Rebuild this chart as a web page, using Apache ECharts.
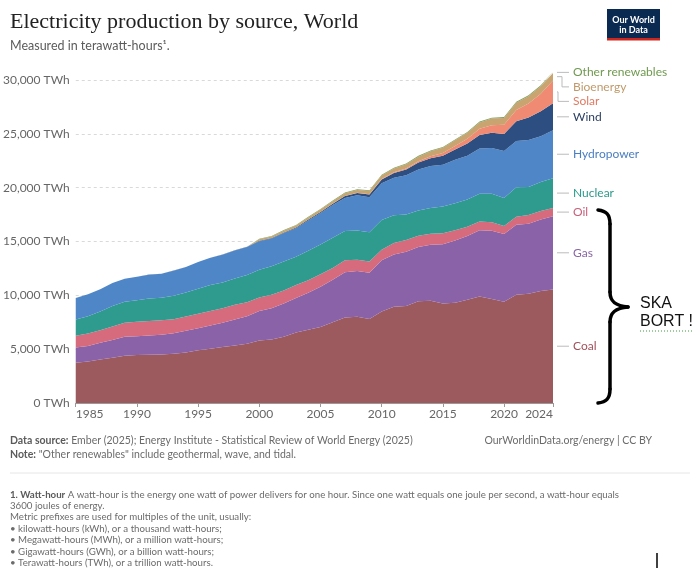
<!DOCTYPE html>
<html>
<head>
<meta charset="utf-8">
<script src="https://cdn.jsdelivr.net/npm/echarts@6/dist/echarts.min.js"></script>
<style>
html,body{margin:0;padding:0;background:#fff;}
#chart{width:700px;height:569px;}
</style>
</head>
<body>
<div id="chart"></div>
<script>
// ---- Data (TWh) ----
const years = [1985,1986,1987,1988,1989,1990,1991,1992,1993,1994,1995,1996,1997,1998,1999,2000,2001,2002,2003,2004,2005,2006,2007,2008,2009,2010,2011,2012,2013,2014,2015,2016,2017,2018,2019,2020,2021,2022,2023,2024];
const coal = [3750,3850,4050,4200,4400,4450,4470,4500,4580,4700,4900,5050,5200,5350,5500,5800,5900,6150,6550,6800,7050,7500,7950,8000,7800,8500,8950,9000,9450,9500,9250,9300,9600,9900,9650,9400,10050,10150,10400,10550];
const gas = [1400,1450,1550,1650,1750,1750,1800,1850,1900,2000,2050,2150,2250,2400,2550,2750,2900,3100,3200,3450,3750,3950,4200,4250,4300,4750,4850,5050,5050,5200,5500,5800,5900,6150,6350,6300,6500,6500,6650,6800];
const oil = [1100,1150,1150,1250,1300,1350,1350,1330,1300,1330,1330,1340,1350,1380,1300,1250,1250,1200,1200,1150,1150,1100,1100,1050,1050,980,1050,1100,1030,1010,1020,950,860,800,780,740,760,800,780,760];
const nuclear = [1500,1600,1750,1900,1950,2000,2080,2100,2180,2240,2330,2420,2400,2440,2530,2580,2650,2700,2640,2750,2770,2800,2720,2730,2700,2760,2580,2350,2360,2410,2470,2510,2530,2580,2660,2610,2720,2620,2690,2770];
const hydro = [2000,2040,2070,2140,2140,2170,2220,2230,2330,2360,2480,2520,2570,2590,2610,2650,2580,2640,2650,2800,2920,3030,3080,3260,3250,3430,3500,3660,3800,3900,3890,4030,4070,4200,4250,4350,4300,4350,4250,4450];
const wind = [0,0,0,0,3,4,4,5,6,7,8,10,12,16,21,31,38,52,63,85,104,133,171,220,276,342,437,524,637,712,828,960,1140,1270,1420,1590,1850,2100,2330,2500];
const solar = [0,0,0,0,0,0,0,0,0,0,0,0,0,0,0,1,1,2,2,3,4,6,8,12,20,32,63,99,134,190,256,328,444,570,693,845,1030,1290,1630,2130];
const bioenergy = [0,0,0,0,0,0,0,0,0,0,0,0,0,0,0,142,150,165,180,200,215,230,250,270,290,330,350,390,420,460,490,520,550,580,610,640,680,690,690,700];
const otherRenewables = [0,0,0,0,0,0,0,0,0,0,0,0,0,0,0,52,53,54,55,57,58,60,62,64,66,68,70,71,73,76,80,82,85,87,89,90,92,93,94,95];

const sourceNames = ['Coal','Gas','Oil','Nuclear','Hydropower','Wind','Solar','Bioenergy','Other renewables'];
const sourceValues = [coal,gas,oil,nuclear,hydro,wind,solar,bioenergy,otherRenewables];
const areaColors = ['#9c5a5e','#8a62a8','#d66b7d','#2f9a8e','#4f86c8','#2c4e80','#f08a73','#c9a370','#7f9f5c'];
const labelColors = ['#a0505a','#8a64a5','#c9607a','#2a9a8a','#4a7ec0','#2b3f62','#e07a62','#c09a6a','#6f9a4f'];

const yTicks = [0,5000,10000,15000,20000,25000,30000];

const chart = echarts.init(document.getElementById('chart'), null, {renderer:'canvas'});

const series = sourceNames.map((name,i)=>({
  name: name,
  type: 'line',
  stack: 'total',
  clip: false,
  symbol: 'none',
  smooth: false,
  lineStyle: {width: 0},
  areaStyle: {color: areaColors[i], opacity: 1},
  itemStyle: {color: areaColors[i]},
  data: sourceValues[i]
}));

const baseFont = 'Lato, "Noto Sans", sans-serif';
const showYear = (idx, val) => (+val) % 5 === 0 || (+val) === years[years.length-1];

const option = {
  animation: false,
  backgroundColor: '#fff',
  grid: {left: 71, right: 147, top: 80, bottom: 166},
  xAxis: {
    type: 'category', boundaryGap: false,
    data: years.map(String),
    axisLine: {show: true, lineStyle: {color: '#999'}},
    axisTick: {show: true, length: 4, interval: showYear, lineStyle: {color: '#999'}},
    axisLabel: {color: '#666', fontSize: 12, fontFamily: baseFont, margin: 5, interval: showYear,
      alignMinLabel: 'left', alignMaxLabel: 'right'},
    splitLine: {show: false}
  },
  yAxis: {
    type: 'value', min: yTicks[0], max: yTicks[yTicks.length-1], interval: 5000,
    axisLine: {show: false}, axisTick: {show: false},
    axisLabel: {color: '#666', fontSize: 12, fontFamily: baseFont, margin: 6,
      formatter: v => v.toLocaleString('en-US') + ' TWh'},
    splitLine: {show: true, lineStyle: {color: '#d9d9d9', type: [3,3]}}
  },
  series: series
};
chart.setOption(option);

// ---- Labels at the right end ----
const lastIdx = years.length - 1;
let cum = 0;
const ideals = sourceValues.map(arr => {
  const v = arr[lastIdx];
  const mid = cum + v/2;
  cum += v;
  return chart.convertToPixel({xAxisIndex:0, yAxisIndex:0}, [lastIdx, mid])[1];
});
const endX = chart.convertToPixel({xAxisIndex:0, yAxisIndex:0}, [lastIdx, 0])[0];
const order = sourceNames.map((_,i)=>i).reverse();
const placed = {};
let prev = -Infinity;
order.forEach(i => {
  const y = Math.max(ideals[i], prev + 14.5);
  placed[i] = y; prev = y;
});
const elements = [];
let elbowCount = 0;
order.forEach(i => {
  const y = placed[i], yi = ideals[i];
  if (Math.abs(y - yi) < 1) {
    elements.push({type:'line', shape:{x1:endX+4, y1:y, x2:endX+16, y2:y}, style:{stroke:'#bbb', lineWidth:1}});
  } else {
    const xm = endX + 9 - elbowCount*4; elbowCount++;
    elements.push({type:'polyline', shape:{points:[[endX+4,yi],[xm,yi],[xm,y],[endX+16,y]]}, style:{stroke:'#bbb', lineWidth:1, fill:null}});
  }
  elements.push({type:'text', x:endX+20, y:y, style:{text:sourceNames[i], fill:labelColors[i], font:'12px ' + baseFont, textVerticalAlign:'middle'}});
});

// ---- Header / footer ----
elements.push({type:'text', x:10, y:11, style:{text:'Electricity production by source, World', fill:'#222', font:'22px "Liberation Serif", serif'}});
elements.push({type:'text', x:10, y:39, style:{text:'Measured in terawatt-hours¹.', fill:'#5b5b5b', font:'12.5px ' + baseFont}});
elements.push({type:'rect', shape:{x:607, y:9, width:53, height:31}, style:{fill:'#0b2a52'}});
elements.push({type:'rect', shape:{x:607, y:38, width:53, height:2.5}, style:{fill:'#ce261e'}});
elements.push({type:'text', x:633.5, y:20, style:{text:'Our World', fill:'#fff', font:'bold 9px ' + baseFont, textAlign:'center', textVerticalAlign:'middle'}});
elements.push({type:'text', x:633.5, y:30, style:{text:'in Data', fill:'#fff', font:'bold 9px ' + baseFont, textAlign:'center', textVerticalAlign:'middle'}});

const fs = 10.5;
elements.push({type:'text', x:10, y:440.5, style:{
  text:'{b|Data source:} Ember (2025); Energy Institute - Statistical Review of World Energy (2025)',
  textVerticalAlign:'middle',
  rich:{b:{fontWeight:'bold', fill:'#5b5b5b', fontSize:fs, fontFamily:baseFont}},
  fill:'#6b6b6b', font:fs + 'px ' + baseFont}});
elements.push({type:'text', x:652, y:440.5, style:{text:'OurWorldinData.org/energy | CC BY', fill:'#6b6b6b', font:fs + 'px ' + baseFont, textAlign:'right', textVerticalAlign:'middle'}});
elements.push({type:'text', x:10, y:455, style:{
  text:'{b|Note:} "Other renewables" include geothermal, wave, and tidal.',
  textVerticalAlign:'middle',
  rich:{b:{fontWeight:'bold', fill:'#5b5b5b', fontSize:fs, fontFamily:baseFont}},
  fill:'#6b6b6b', font:fs + 'px ' + baseFont}});
elements.push({type:'line', shape:{x1:10, y1:473, x2:690, y2:473}, style:{stroke:'#e6e6e6', lineWidth:1}});

const footLines = [
  '{b|1. Watt-hour} A watt-hour is the energy one watt of power delivers for one hour. Since one watt equals one joule per second, a watt-hour equals',
  '3600 joules of energy.',
  'Metric prefixes are used for multiples of the unit, usually:',
  '• kilowatt-hours (kWh), or a thousand watt-hours;',
  '• Megawatt-hours (MWh), or a million watt-hours;',
  '• Gigawatt-hours (GWh), or a billion watt-hours;',
  '• Terawatt-hours (TWh), or a trillion watt-hours.'
];
const footY = [495, 506, 517, 528.5, 540, 551.5, 563];
footLines.forEach((t,k)=>{
  elements.push({type:'text', x:10, y:footY[k], style:{text:t, textVerticalAlign:'middle',
    rich:{b:{fontWeight:'bold', fill:'#5b5b5b', fontSize:9.7, fontFamily:baseFont}},
    fill:'#6b6b6b', font:'9.7px ' + baseFont}});
});

// ---- Hand-drawn annotation (curly brace) ----
const braceStyle = {stroke:'#000', lineWidth:3.5, fill:null, lineCap:'round'};
elements.push({type:'bezierCurve', shape:{x1:598,y1:210,cpx1:606,cpy1:211,cpx2:610,cpy2:214,x2:610,y2:224}, style:braceStyle});
elements.push({type:'line', shape:{x1:610,y1:224,x2:610,y2:292}, style:braceStyle});
elements.push({type:'bezierCurve', shape:{x1:610,y1:292,cpx1:610,cpy1:302,cpx2:616,cpy2:306,x2:628,y2:307}, style:braceStyle});
elements.push({type:'bezierCurve', shape:{x1:628,y1:307,cpx1:616,cpy1:308,cpx2:610,cpy2:312,x2:610,y2:322}, style:braceStyle});
elements.push({type:'line', shape:{x1:610,y1:322,x2:610,y2:389}, style:braceStyle});
elements.push({type:'bezierCurve', shape:{x1:610,y1:389,cpx1:610,cpy1:399,cpx2:606,cpy2:402,x2:598,y2:403}, style:braceStyle});
elements.push({type:'text', x:640, y:304, style:{text:'SKA', fill:'#111', font:'16px "Liberation Sans", Arial, sans-serif', textVerticalAlign:'middle'}});
elements.push({type:'text', x:640, y:322, style:{text:'BORT !', fill:'#111', font:'16px "Liberation Sans", Arial, sans-serif', textVerticalAlign:'middle'}});
elements.push({type:'line', shape:{x1:640, y1:331, x2:693, y2:331}, style:{stroke:'#3a9a3a', lineWidth:1, lineDash:[1,2]}});
elements.push({type:'line', shape:{x1:657, y1:553, x2:657, y2:568}, style:{stroke:'#000', lineWidth:1.5}});

chart.setOption({graphic: {elements: elements}});
</script>
</body>
</html>
